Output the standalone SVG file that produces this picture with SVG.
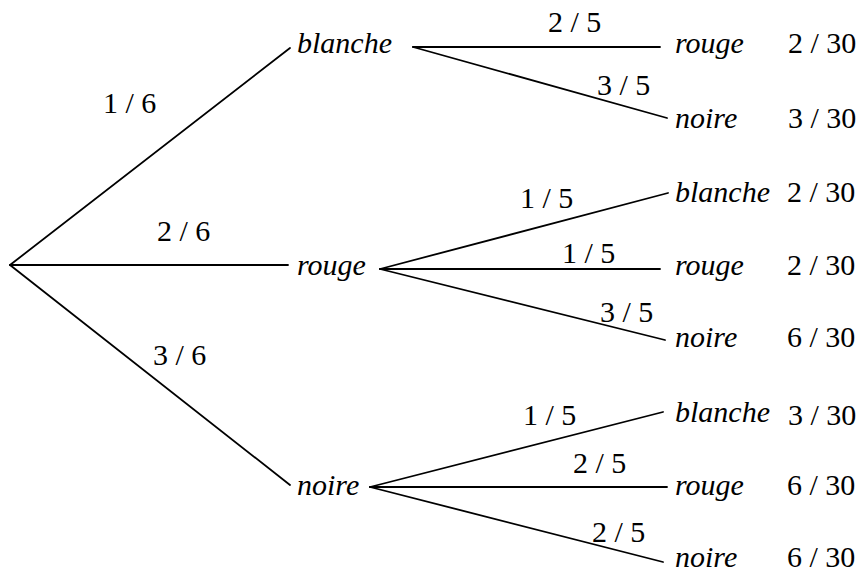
<svg xmlns="http://www.w3.org/2000/svg" width="864" height="573" viewBox="0 0 864 573">
<style>
.e{stroke:#000;stroke-width:1.8;fill:none;stroke-linecap:round}
.n{font-style:italic}
</style>
<rect width="864" height="573" fill="#fff"/>
<g id="connectors">
<line class="e" x1="10" y1="265" x2="290" y2="48"/>
<line class="e" x1="10" y1="265" x2="288" y2="265"/>
<line class="e" x1="10" y1="265" x2="290" y2="485"/>
<line class="e" x1="413" y1="47" x2="660" y2="47"/>
<line class="e" x1="413" y1="47" x2="667" y2="118"/>
<line class="e" x1="380" y1="269" x2="668" y2="193"/>
<line class="e" x1="380" y1="269" x2="660" y2="269"/>
<line class="e" x1="380" y1="269" x2="665" y2="340"/>
<line class="e" x1="370" y1="487" x2="663" y2="412"/>
<line class="e" x1="370" y1="487" x2="667" y2="487"/>
<line class="e" x1="370" y1="487" x2="663" y2="562"/>
</g>
<g font-family="'Liberation Serif', 'Times New Roman', Times, serif" font-size="30" fill="#000">
<g id="edge-labels">
<text x="103" y="113">1 / 6</text>
<text x="157" y="241">2 / 6</text>
<text x="153" y="365">3 / 6</text>
<text x="548" y="32">2 / 5</text>
<text x="597" y="95">3 / 5</text>
<text x="520" y="208">1 / 5</text>
<text x="562" y="263">1 / 5</text>
<text x="600" y="322">3 / 5</text>
<text x="523" y="425">1 / 5</text>
<text x="573" y="473">2 / 5</text>
<text x="592" y="542">2 / 5</text>
</g>
<g id="root"/>
<g id="n-blanche"><text class="n" x="297" y="53">blanche</text></g>
<g id="n-rouge"><text class="n" x="297" y="275">rouge</text></g>
<g id="n-noire"><text class="n" x="297" y="495">noire</text></g>
<g id="n-blanche-rouge"><text class="n" x="675" y="53">rouge</text><text x="788" y="53">2 / 30</text></g>
<g id="n-blanche-noire"><text class="n" x="675" y="128">noire</text><text x="788" y="128">3 / 30</text></g>
<g id="n-rouge-blanche"><text class="n" x="675" y="202">blanche</text><text x="787" y="202">2 / 30</text></g>
<g id="n-rouge-rouge"><text class="n" x="675" y="275">rouge</text><text x="787" y="275">2 / 30</text></g>
<g id="n-rouge-noire"><text class="n" x="675" y="347">noire</text><text x="787" y="347">6 / 30</text></g>
<g id="n-noire-blanche"><text class="n" x="675" y="422">blanche</text><text x="788" y="425">3 / 30</text></g>
<g id="n-noire-rouge"><text class="n" x="675" y="495">rouge</text><text x="787" y="495">6 / 30</text></g>
<g id="n-noire-noire"><text class="n" x="675" y="567">noire</text><text x="787" y="567">6 / 30</text></g>
</g>
</svg>
